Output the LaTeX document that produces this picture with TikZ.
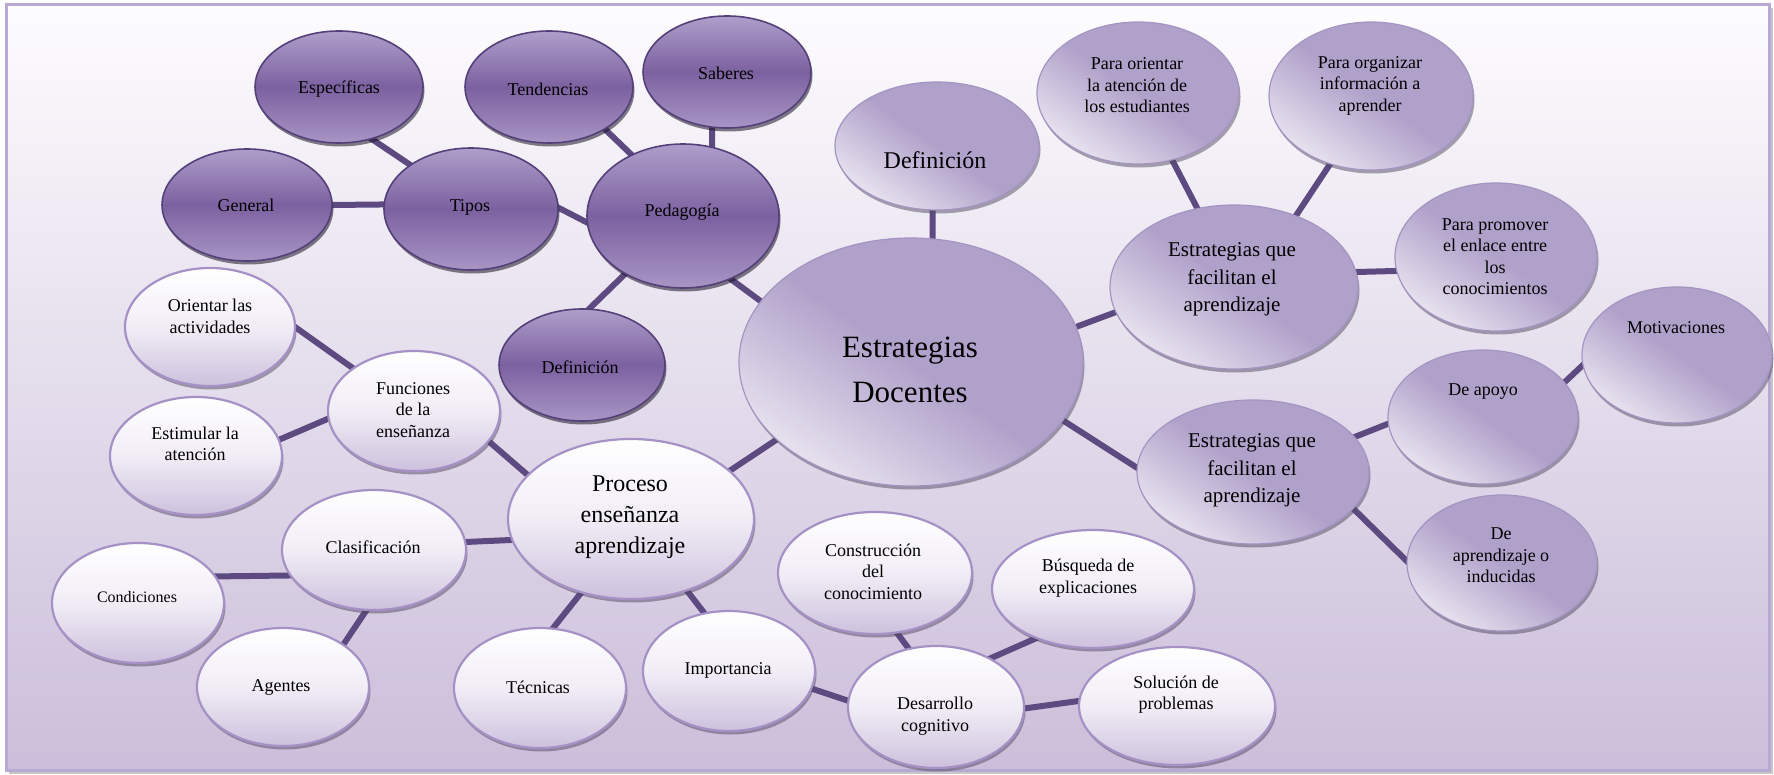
\documentclass[tikz,border=0pt]{standalone}
\usepackage{fontspec}
\setmainfont{Liberation Serif}
\usetikzlibrary{shapes.geometric,shadows}
\pgfdeclarelayer{bgframe}
\pgfdeclarelayer{edges}
\pgfsetlayers{bgframe,edges,main}
\definecolor{frameline}{HTML}{B7A9D1}
\definecolor{frametop}{HTML}{FDFCFE}
\definecolor{framebot}{HTML}{CBBEDA}
\definecolor{edgecol}{HTML}{5C4A80}
\definecolor{dkTop}{HTML}{AE9ECA}
\definecolor{dkMid}{HTML}{7C61A0}
\definecolor{dkBot}{HTML}{A895C5}
\definecolor{dkLine}{HTML}{55407A}
\definecolor{lpDark}{HTML}{B0A1CA}
\definecolor{lpLight}{HTML}{E8E2EF}
\definecolor{lpLine}{HTML}{A494C2}
\definecolor{wtTop}{HTML}{FFFFFF}
\definecolor{wtMid}{HTML}{F1EDF6}
\definecolor{wtBot}{HTML}{CDC1DD}
\definecolor{wtLine}{HTML}{A591C5}
\tikzset{
  bub/.style 2 args={ellipse, inner sep=0pt, outer sep=0pt, minimum width=#1pt, minimum height=#2pt},
  dkbub/.style 2 args={bub={#1}{#2}, draw=dkLine, line width=1.6pt,
    top color=dkTop, bottom color=dkBot, middle color=dkMid,
    drop shadow={shadow xshift=1.5pt, shadow yshift=-3.5pt, fill=black!70!dkLine, opacity=0.55}},
  lpbub/.style 2 args={bub={#1}{#2}, draw=lpLine, line width=1.2pt,
    top color=lpDark, bottom color=lpLight, middle color=lpDark, shading angle=-35,
    drop shadow={shadow xshift=1.5pt, shadow yshift=-3.5pt, fill=black!50!lpLine, opacity=0.5}},
  wtbub/.style 2 args={bub={#1}{#2}, draw=wtLine, line width=2.2pt,
    top color=wtTop, bottom color=wtBot, middle color=wtMid,
    drop shadow={shadow xshift=1.5pt, shadow yshift=-3.5pt, fill=black!50!wtLine, opacity=0.5}},
  txt/.style={align=center, inner sep=0pt, text=black, font=\fontsize{18}{21.5}\selectfont},
  txtmid/.style={txt, font=\fontsize{21}{27.5}\selectfont},
  txtbig/.style={txt, font=\fontsize{24}{31}\selectfont},
  txthuge/.style={txt, font=\fontsize{31}{45}\selectfont},
  txtsmall/.style={txt, font=\fontsize{16}{19}\selectfont},
  link/.style={draw=edgecol, line width=6pt, shorten <=-8pt, shorten >=-8pt}
}
\begin{document}
\begin{tikzpicture}[x=1pt, y=-1pt]
\useasboundingbox (0,0) rectangle (1774,775);
\begin{pgfonlayer}{bgframe}
  \fill[white] (0,0) rectangle (1774,775);
  \fill[top color=frametop, bottom color=framebot] (6,5) rectangle (1769,770);
  \draw[black!22, line width=2pt] (9,772.5) -- (1771.5,772.5) -- (1771.5,8);
  \draw[frameline, line width=3pt] (6,5) rectangle (1769,770);
\end{pgfonlayer}

% dark bubbles
\node[dkbub={168}{112}] (espec) at (339,87) {};
\node[dkbub={168}{112}] (tend) at (549,87) {};
\node[dkbub={168}{112}] (saber) at (727,72) {};
\node[dkbub={170}{112}] (general) at (247,205) {};
\node[dkbub={174}{122}] (tipos) at (471,209) {};
\node[dkbub={192}{144}] (ped) at (683,216) {};
\node[dkbub={166}{112}] (def1) at (582,365) {};

% light purple bubbles
\node[lpbub={204}{128}] (def2) at (937,146) {};
\node[lpbub={202}{142}] (porient) at (1138,93) {};
\node[lpbub={204}{148}] (porg) at (1371,96) {};
\node[lpbub={248}{164}] (est1) at (1234,287) {};
\node[lpbub={202}{148}] (ppromo) at (1496,257) {};
\node[lpbub={190}{136}] (motiv) at (1677,355) {};
\node[lpbub={190}{134}] (apoyo) at (1483,417) {};
\node[lpbub={232}{144}] (est2) at (1253,472) {};
\node[lpbub={190}{136}] (indu) at (1502,563) {};
\node[lpbub={344}{248}] (docentes) at (911,362) {};

% white bubbles
\node[wtbub={170}{118}] (orient) at (210,327) {};
\node[wtbub={172}{120}] (func) at (414,411) {};
\node[wtbub={172}{118}] (estim) at (196,456) {};
\node[wtbub={246}{160}] (proceso) at (631,519) {};
\node[wtbub={184}{120}] (clasif) at (374,550) {};
\node[wtbub={172}{120}] (condic) at (138,603) {};
\node[wtbub={172}{118}] (agentes) at (283,687) {};
\node[wtbub={172}{120}] (tecnicas) at (540,688) {};
\node[wtbub={172}{120}] (import) at (729,671) {};
\node[wtbub={194}{122}] (constr) at (875,573) {};
\node[wtbub={202}{118}] (busq) at (1093,589) {};
\node[wtbub={176}{122}] (desarr) at (936,707) {};
\node[wtbub={196}{118}] (soluc) at (1177,706) {};

% texts
\node[txt] (t-espec) at (339,89) {Específicas};
\node[txt] (t-tend) at (548,89) {Tendencias};
\node[txt] (t-saber) at (726,73) {Saberes};
\node[txt] (t-general) at (246,205) {General};
\node[txt] (t-tipos) at (470,207) {Tipos};
\node[txt] (t-ped) at (682,212) {Pedagogía};
\node[txt] (t-def1) at (580,367) {Definición};
\node[txtbig] (t-def2) at (935,160) {Definición};
\node[txt] (t-porient) at (1137,85.5) {Para orientar\\la atención de\\los estudiantes};
\node[txt] (t-porg) at (1370,85.5) {Para organizar\\información a\\aprender};
\node[txtmid] (t-est1) at (1232,279.5) {Estrategias que\\facilitan el\\aprendizaje};
\node[txt] (t-ppromo) at (1495,256.5) {Para promover\\el enlace entre\\los\\conocimientos};
\node[txt] (t-motiv) at (1676,328) {Motivaciones};
\node[txt] (t-apoyo) at (1483,392) {De apoyo};
\node[txtmid] (t-est2) at (1252,470.5) {Estrategias que\\facilitan el\\aprendizaje};
\node[txt] (t-indu) at (1501,555.5) {De\\aprendizaje o\\inducidas};
\node[txthuge] (t-docentes) at (910,369.5) {Estrategias\\Docentes};
\node[txt] (t-orient) at (210,316.5) {Orientar las\\actividades};
\node[txt] (t-func) at (413,410) {Funciones\\de la\\enseñanza};
\node[txt] (t-estim) at (195,444) {Estimular la\\atención};
\node[txtbig] (t-proceso) at (630,517) {Proceso\\enseñanza\\aprendizaje};
\node[txt] (t-clasif) at (373,547) {Clasificación};
\node[txtsmall] (t-condic) at (137,597) {Condiciones};
\node[txt] (t-agentes) at (281,687) {Agentes};
\node[txt] (t-tecnicas) at (538,687) {Técnicas};
\node[txt] (t-import) at (728,670) {Importancia};
\node[txt] (t-constr) at (873,571.5) {Construcción\\del\\conocimiento};
\node[txt] (t-busq) at (1088,578) {Búsqueda de\\explicaciones};
\node[txt] (t-desarr) at (935,716) {Desarrollo\\cognitivo};
\node[txt] (t-soluc) at (1176,694.5) {Solución de\\problemas};

\begin{pgfonlayer}{edges}
\draw[link] (espec.-58.6) -- (tipos.144.2);
\draw[link] (general.0) -- (tipos.177.4);
\draw[link] (tipos.1.3) -- (ped.184);
\draw[link] (tend.-37.8) -- (ped.130.5);
\draw[link] (saber.255.3) -- (ped.67.9);
\draw[link] (ped.225) -- (def1.83.7);
\draw[link] (ped.-53.5) -- (docentes.158.3);
\draw[link] (def2.-94.4) -- (docentes.80.7);
\draw[link] (docentes.12.9) -- (est1.192.1);
\draw[link] (est1.115.7) -- (porient.-63.7);
\draw[link] (est1.49.3) -- (porg.-121.6);
\draw[link] (est1.7.7) -- (ppromo.188);
\draw[link] (docentes.-21.1) -- (est2.178);
\draw[link] (est2.19.8) -- (apoyo.184.2);
\draw[link] (apoyo.23.4) -- (motiv.186.1);
\draw[link] (est2.-20.7) -- (indu.179.4);
\draw[link] (docentes.210.2) -- (proceso.26.3);
\draw[link] (proceso.157.5) -- (func.-22.7);
\draw[link] (func.145.5) -- (orient.0);
\draw[link] (func.185.4) -- (estim.11.2);
\draw[link] (proceso.190.8) -- (clasif.5);
\draw[link] (clasif.197.2) -- (condic.19.3);
\draw[link] (clasif.263.6) -- (agentes.35.6);
\draw[link] (proceso.236.1) -- (tecnicas.78.9);
\draw[link] (proceso.308.5) -- (import.113.8);
\draw[link] (import.-12.2) -- (desarr.176);
\draw[link] (constr.-70.3) -- (desarr.115.8);
\draw[link] (busq.221.8) -- (desarr.42.3);
\draw[link] (desarr.-1.3) -- (soluc.177.6);
\end{pgfonlayer}
\end{tikzpicture}
\end{document}
